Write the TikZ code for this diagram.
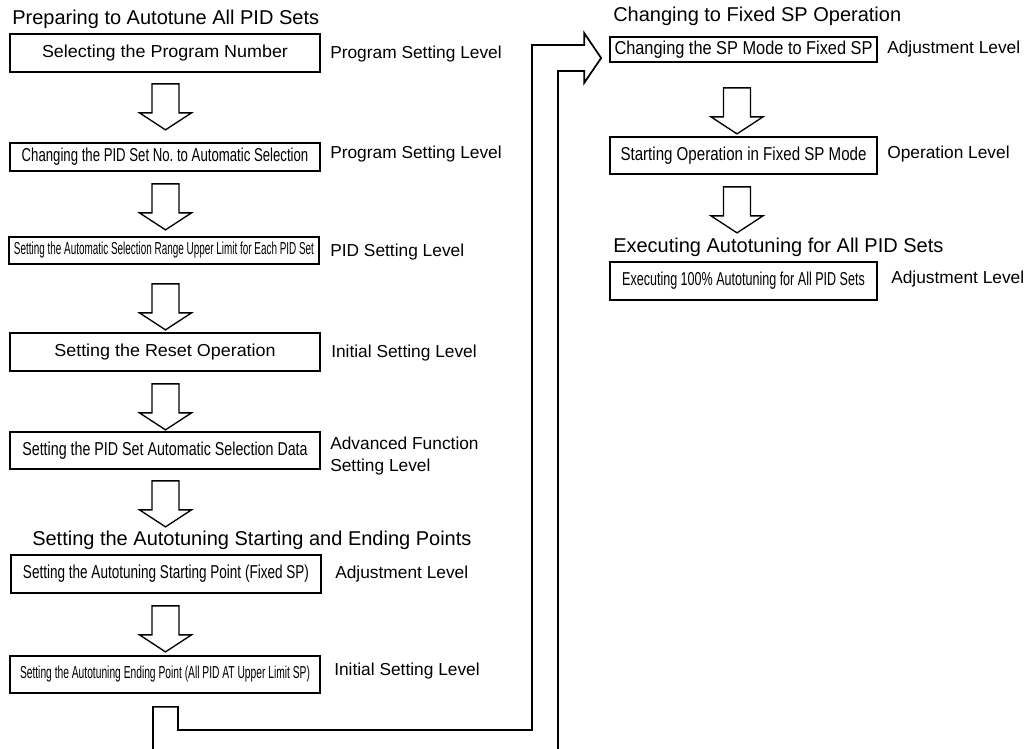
\documentclass[tikz,border=0pt]{standalone}
\usepackage{graphicx}
\usepackage{fontspec}
\setmainfont{Liberation Sans}
\usetikzlibrary{calc}

\newcommand*{\xmax}{1031}
\newcommand*{\ymax}{749}
\newcommand*{\squeeze}[2]{\resizebox{#1}{\height}{#2}}

\begin{document}
\begin{tikzpicture}
[
	x=0.75pt, y=-0.75pt,
	box/.style={draw,line width=1.3pt,inner sep=0pt,font=\fontsize{13}{15}\selectfont},
	leftbox/.style={box,minimum width=232.5pt},
	rightbox/.style={box,minimum width=200.25pt},
	narrow/.style={font=\fontsize{14}{16}\selectfont},
	small/.style={font=\fontsize{13}{15}\selectfont},
	lvl/.style={anchor=base west,inner sep=0pt,font=\fontsize{13}{16.5}\selectfont},
	hd/.style={anchor=base west,inner sep=0pt,font=\fontsize{15}{18}\selectfont},
	hollow/.style={draw,line width=1pt,fill=white,line join=miter},
	link/.style={draw,line width=1.3pt,line join=miter}
]
	\useasboundingbox (0,0) rectangle (\xmax,\ymax);

	% headings
	\node[hd] (h1) at (12,25) {Preparing to Autotune All PID Sets};
	\node[hd] (h2) at (32,545) {Setting the Autotuning Starting and Ending Points};
	\node[hd] (h3) at (613,22) {Changing to Fixed SP Operation};
	\node[hd] (h4) at (613,252) {Executing Autotuning for All PID Sets};

	% left column
	\node[leftbox,minimum height=28.5pt] (b1) at (165,53) {\squeeze{184.5pt}{Selecting the Program Number}};
	\node[leftbox,minimum height=21pt,narrow] (b2) at (165,157) {\squeeze{215pt}{Changing the PID Set No.\ to Automatic Selection}};
	\node[leftbox,minimum height=20.25pt,small] (b3) at (164,250.5) {\squeeze{225pt}{Setting the Automatic Selection Range Upper Limit for Each PID Set}};
	\node[leftbox,minimum height=28.5pt] (b4) at (165,352) {\squeeze{166pt}{Setting the Reset Operation}};
	\node[leftbox,minimum height=27.75pt,narrow] (b5) at (165,450.5) {\squeeze{214pt}{Setting the PID Set Automatic Selection Data}};
	\node[leftbox,minimum height=28.5pt,narrow] (b6) at (166,574) {\squeeze{214.5pt}{Setting the Autotuning Starting Point (Fixed SP)}};
	\node[leftbox,minimum height=27.75pt,small] (b7) at (165,674.5) {\squeeze{217.5pt}{Setting the Autotuning Ending Point (All PID AT Upper Limit SP)}};

	% right column
	\node[rightbox,minimum height=18.75pt,narrow] (r1) at (743.5,49.5) {\squeeze{193.5pt}{Changing the SP Mode to Fixed SP}};
	\node[rightbox,minimum height=27.75pt,narrow] (r2) at (743.5,155.5) {\squeeze{184.5pt}{Starting Operation in Fixed SP Mode}};
	\node[rightbox,minimum height=28.5pt,narrow] (r3) at (743.5,281) {\squeeze{182pt}{Executing 100\% Autotuning for All PID Sets}};

	% setting levels
	\node[lvl] (l1) at (330,59) {Program Setting Level};
	\node[lvl] (l2) at (330,158) {Program Setting Level};
	\node[lvl] (l3) at (330,256) {PID Setting Level};
	\node[lvl] (l4) at (331,357) {Initial Setting Level};
	\node[lvl,anchor=north west,align=left] (l5) at (330,437) {Advanced Function\\Setting Level};
	\node[lvl] (l6) at (335,578) {Adjustment Level};
	\node[lvl] (l7) at (334,675) {Initial Setting Level};
	\node[lvl] (l8) at (887,54) {Adjustment Level};
	\node[lvl] (l9) at (887,158) {Operation Level};
	\node[lvl] (l10) at (891,283) {Adjustment Level};

	% hollow arrows between the steps
	\foreach \a/\dy/\dx in {b1/11/0.5, b2/12/0.5, b3/19/1.5, b4/12/0.5, b5/11/0.5, b6/12/-0.5, r1/25/-6.5, r2/12/-6.5} {
		\draw[hollow] ($(\a.south)+(\dx,\dy)$) ++(-13.5,0) -- ++(27,0) -- ++(0,29) -- ++(12.5,0)
			-- ++(-26,17) -- ++(-26,-17) -- ++(12.5,0) -- cycle;
	}

	% jump to the second column
	\coordinate (capl) at ($(b7.south)+(-12,13)$);
	\coordinate (capr) at ($(b7.south)+(13,13)$);
	\coordinate (tip) at ($(r1.west)+(-8,8.5)$);
	\draw[link] (capl |- 0,\ymax) -- (capl) -- (capr) |- (532,730) |- ($(tip)+(-17,-13)$)
		-- ++(0,-12) -- (tip) -- ++(-17,25) -- ++(0,-12) -| (558,\ymax);

\end{tikzpicture}
\end{document}
